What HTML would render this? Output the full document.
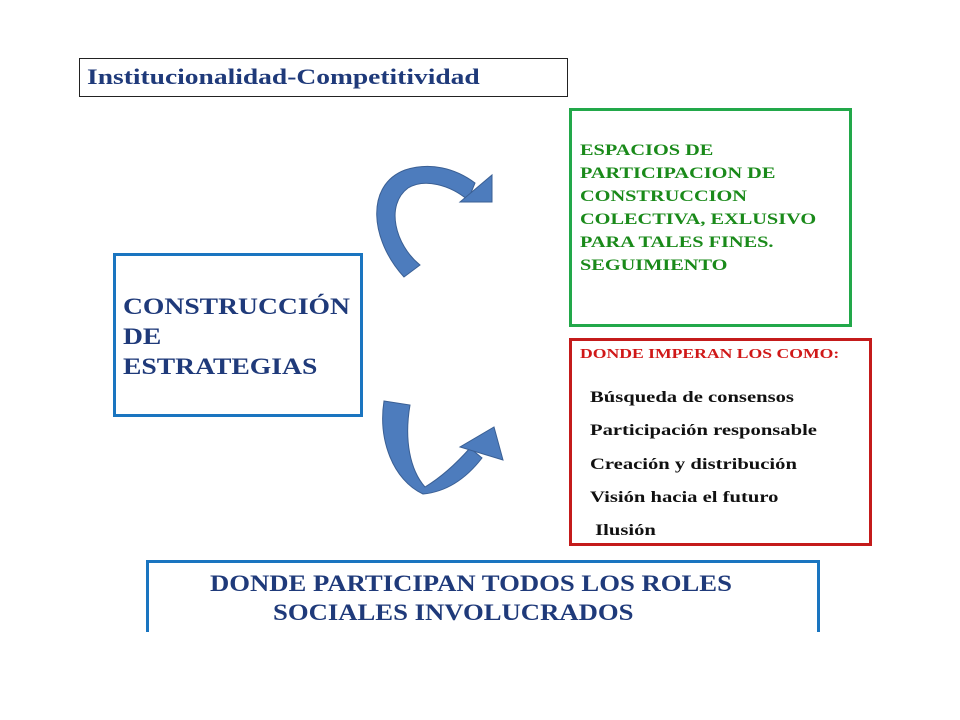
<!DOCTYPE html>
<html><head><meta charset="utf-8"><style>
body{margin:0;background:#fff;width:960px;height:720px;position:relative;overflow:hidden;font-family:"Liberation Serif",serif;font-weight:bold}
.b{position:absolute;box-sizing:border-box}
.s{transform-origin:0 0;white-space:nowrap;position:absolute}
</style></head><body>
<div class="b" style="left:79px;top:58px;width:489px;height:39px;border:1.5px solid #222;color:#1f3a7a;font-size:22px"><div class="s" style="left:7px;top:5px;transform:scaleX(1.25)">Institucionalidad-Competitividad</div></div>
<div class="b" style="left:569px;top:108px;width:283px;height:219px;border:3px solid #22a84a;color:#1a8a1a;font-size:15.5px;line-height:23px"><div class="s" style="left:8px;top:28px;transform:scaleX(1.31)">ESPACIOS DE<br>PARTICIPACION DE<br>CONSTRUCCION<br>COLECTIVA, EXLUSIVO<br>PARA TALES FINES.<br>SEGUIMIENTO</div></div>
<div class="b" style="left:113px;top:253px;width:250px;height:164px;border:3px solid #1a75c0;color:#1f3a7a;font-size:23px;line-height:30px"><div class="s" style="left:7px;top:36px;transform:scaleX(1.2)">CONSTRUCCIÓN<br>DE<br>ESTRATEGIAS</div></div>
<div class="b" style="left:569px;top:338px;width:303px;height:208px;border:3px solid #c41b1b;font-size:15.5px">
<div class="s" style="left:8px;top:6px;color:#d01818;font-size:14px;transform:scaleX(1.26)">DONDE IMPERAN LOS COMO:</div>
<div class="s" style="left:18px;top:40px;line-height:33.3px;color:#111;transform:scaleX(1.33)">Búsqueda de consensos<br>Participación responsable<br>Creación y distribución<br>Visión hacia el futuro<br>&nbsp;Ilusión</div></div>
<div class="b" style="left:146px;top:560px;width:674px;height:72px;border:3px solid #1a75c0;border-bottom:none;color:#1f3a7a;font-size:23px;line-height:29px">
<div class="s" style="left:61px;top:6px;transform:scaleX(1.16)">DONDE PARTICIPAN TODOS LOS ROLES</div>
<div class="s" style="left:124px;top:35px;transform:scaleX(1.16)">SOCIALES INVOLUCRADOS</div></div>
<svg class="b" style="left:0;top:0" width="960" height="720">
<g fill="#4d7cbd" stroke="#3a5f94" stroke-width="1">
<path d="M404,277 C370,240 365,185 405,170 C430,162 455,168 475,183 L468,200 C450,185 425,178 408,188 C385,205 395,245 420,265 Z"/>
<polygon points="492,175 492,202 460,202"/>
<path d="M384,401 L410,405 C404,440 410,470 425,487 C440,478 455,465 470,448 L482,458 C465,480 445,492 423,494 C393,480 378,440 384,401 Z"/>
<polygon points="503,460 494,427 460,447"/>
</g></svg>
</body></html>
